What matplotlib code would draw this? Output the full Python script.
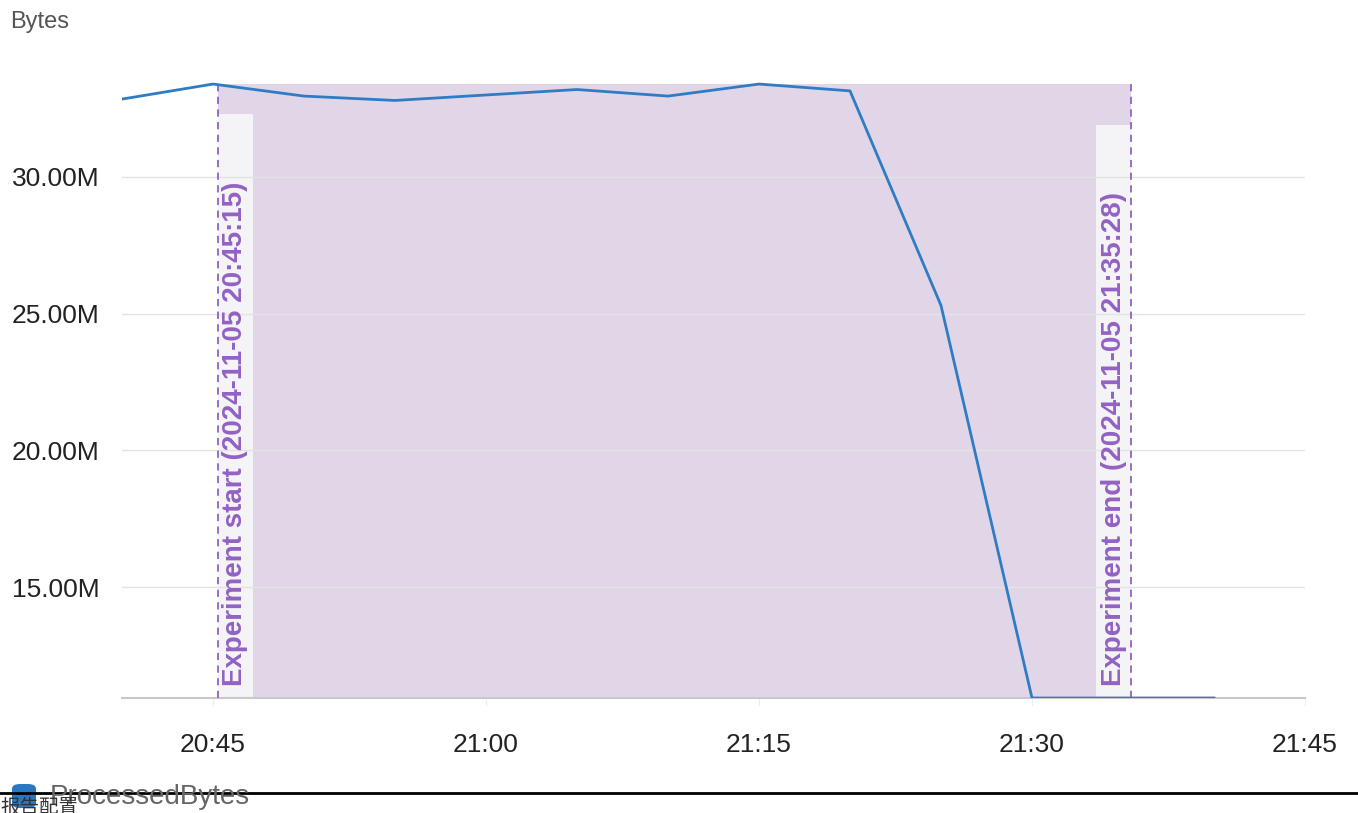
import matplotlib
matplotlib.use("Agg")
import matplotlib.pyplot as plt
import matplotlib.dates as mdates
from matplotlib.patches import FancyBboxPatch, Rectangle
from matplotlib.lines import Line2D
import pandas as pd

# data
times = ["20:40", "20:45", "20:50", "20:55", "21:00", "21:05", "21:10",
         "21:15", "21:20", "21:25", "21:30", "21:35", "21:40"]
processed_mb = [32.85, 33.4, 32.96, 32.8, 33.0, 33.2, 32.96,
                33.4, 33.15, 25.3, 10.94, 10.94, 10.94]
exp_start = "2024-11-05 20:45:15"
exp_end = "2024-11-05 21:35:28"
yticks_mb = [15, 20, 25, 30]

plt.rcParams['font.family'] = ['Liberation Sans', 'DejaVu Sans']

x = pd.to_datetime(["2024-11-05 " + t for t in times])
y = [v * 1e6 for v in processed_mb]
t0 = pd.Timestamp(exp_start)
t1 = pd.Timestamp(exp_end)

W, H = 1358, 813
fig = plt.figure(figsize=(W / 100, H / 100), dpi=100)
ax = fig.add_axes([122 / W, 1 - 698 / H, (1305 - 122) / W, (698 - 60) / H])

purple = "#9262c4"
ymin = 10.94e6
ax.set_xlim(pd.Timestamp("2024-11-05 20:40"), pd.Timestamp("2024-11-05 21:45"))
ax.set_ylim(ymin, 34.28e6)

# experiment window
ax.fill_between([t0, t1], ymin, max(y), color="#e1d6e8", lw=0, zorder=1)
# label backgrounds
ax.add_patch(Rectangle((mdates.date2num(t0), ymin),
                       1.95 / 1440, 32.3e6 - ymin, color="#f4f3f5", lw=0, zorder=1.5))
ax.add_patch(Rectangle((mdates.date2num(t1) - 1.95 / 1440, ymin),
                       1.95 / 1440, 31.9e6 - ymin, color="#f4f3f5", lw=0, zorder=1.5))
for t in (t0, t1):
    ax.plot([t, t], [ymin, max(y)], color=purple, lw=1.3, ls=(0, (4, 3)), zorder=3)

ax.text(mdates.date2num(t0) + 0.97 / 1440, ymin + 0.45e6,
        "Experiment start (2024-11-05 20:45:15)", rotation=90,
        ha="center", va="bottom", color=purple, fontsize=20, weight="bold", zorder=4)
ax.text(mdates.date2num(t1) - 0.97 / 1440, ymin + 0.45e6,
        "Experiment end (2024-11-05 21:35:28)", rotation=90,
        ha="center", va="bottom", color=purple, fontsize=20, weight="bold", zorder=4)

ax.plot(x, y, color="#2f7cc5", lw=2.0, zorder=5, solid_joinstyle="round")

ax.set_yticks([v * 1e6 for v in yticks_mb])
ax.set_yticklabels(["%.2fM" % v for v in yticks_mb])
ax.set_xticks(pd.to_datetime(["2024-11-05 20:45", "2024-11-05 21:00", "2024-11-05 21:15",
                              "2024-11-05 21:30", "2024-11-05 21:45"]))
ax.xaxis.set_major_formatter(mdates.DateFormatter("%H:%M"))
ax.grid(axis="y", color="#e4e4e4", lw=1, zorder=0)
for s in ("top", "right", "left"):
    ax.spines[s].set_visible(False)
ax.spines["bottom"].set_color("#c8c8c8")
ax.spines["bottom"].set_linewidth(1.5)
ax.tick_params(axis="y", length=0, labelsize=19, pad=16, labelcolor="#222222")
ax.tick_params(axis="x", length=6, color="#eeeeee", labelsize=19, pad=19, labelcolor="#222222")

fig.text(10 / W, 1 - 22 / H, "Bytes", fontsize=17, color="#555555", va="center", ha="left")

# legend
fig.patches.append(FancyBboxPatch((12 / W, 1 - 808 / H), 24 / W, 24 / H,
                                  boxstyle="round,pad=0,rounding_size=0.006",
                                  transform=fig.transFigure, color="#2a78c2", lw=0))
fig.text(50 / W, 1 - 797 / H, "ProcessedBytes", fontsize=20, color="#666666", va="center", ha="left")

# screenshot artefacts at the bottom
fig.add_artist(Line2D([0, 1], [1 - 793 / H, 1 - 793 / H], color="black", lw=2,
                      transform=fig.transFigure))
fig.text(0, 1 - 818 / H, "报告配置", fontsize=14, color="#333333", va="bottom", ha="left",
         family=["Noto Sans CJK SC", "DejaVu Sans"])

fig.savefig("out.png", dpi=100)
